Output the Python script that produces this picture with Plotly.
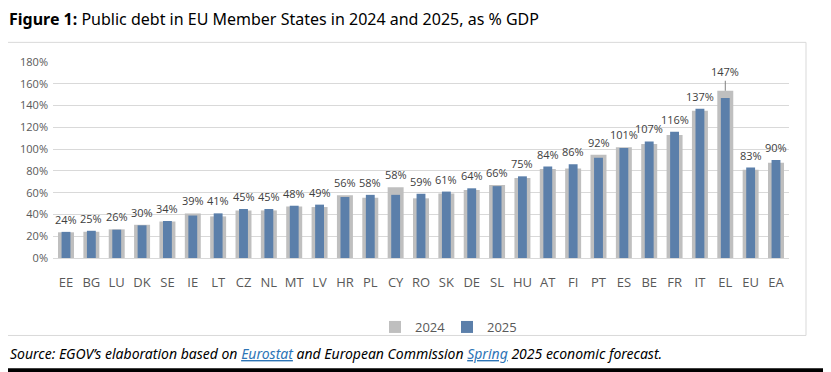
import plotly.graph_objects as go

countries = ["EE", "BG", "LU", "DK", "SE", "IE", "LT", "CZ", "NL", "MT", "LV", "HR", "PL", "CY", "RO",
             "SK", "DE", "SL", "HU", "AT", "FI", "PT", "ES", "BE", "FR", "IT", "EL", "EU", "EA"]
debt_2024 = [23.6, 24.1, 26.3, 30.5, 33.5, 40.9, 38.2, 43.6, 43.7, 47.4, 46.8, 57.6, 55.3, 65.0, 54.8,
             59.3, 62.5, 67.0, 73.5, 81.8, 82.1, 94.9, 101.8, 104.7, 113.0, 135.3, 153.6, 81.0, 87.4]
debt_2025 = [24, 25, 26, 30, 34, 39, 41, 45, 45, 48, 49, 56, 58, 58, 59,
             61, 64, 66, 75, 84, 86, 92, 101, 107, 116, 137, 147, 83, 90]
y_ticks = [0, 20, 40, 60, 80, 100, 120, 140, 160, 180]

# page has an 8px body margin; figure is sized to fill the rest of the window
OFF = 8
SW, SH = 831, 372
W, H = SW - OFF, SH - OFF
L, R, T, B = 53, 789, 61.7, 258.3   # plot area in screen pixels
PW, PH = R - L, B - T


def px(x):
    return (x - L) / PW


def py(y):
    return (B - y) / PH


def cx(x):
    return (x - OFF) / W


def cy(y):
    return 1 - (y - OFF) / H


GRAY = "#BFBFBF"
BLUE = "#5B7FAA"
TXT = "#595959"

fig = go.Figure()
fig.add_trace(go.Bar(x=countries, y=[v / 100 for v in debt_2024], name="2024",
                     marker=dict(color=GRAY, line=dict(width=0)), width=0.63))
fig.add_trace(go.Bar(x=countries, y=[v / 100 for v in debt_2025], name="2025",
                     marker=dict(color=BLUE, line=dict(width=0)), width=0.35))

annotations = []
for c, a, b in zip(countries, debt_2024, debt_2025):
    top = max(a, b) / 100
    if c == "EL":
        annotations.append(dict(x=c, y=top, xref="x", yref="y", text=f"{b}%",
                                showarrow=True, arrowhead=0, arrowwidth=1, arrowcolor="#808080",
                                ax=0, ay=-19, font=dict(size=11, color="#404040", family="Open Sans")))
    else:
        annotations.append(dict(x=c, y=top, xref="x", yref="y", text=f"{b}%", showarrow=False,
                                yanchor="bottom", yshift=3,
                                font=dict(size=11, color="#404040", family="Open Sans")))

annotations.append(dict(
    xref="paper", yref="paper", x=px(8), y=py(354), xanchor="left", yanchor="middle",
    showarrow=False, align="left",
    text=("<i>Source: EGOV’s elaboration based on "
          "<span style='color:#2E75B6;text-decoration:underline'>Eurostat</span>"
          " and European Commission "
          "<span style='color:#2E75B6;text-decoration:underline'>Spring</span>"
          " 2025 economic forecast.</i>"),
    font=dict(size=14, color="#000000", family="Noto Sans")))

shapes = [
    dict(type="rect", xref="paper", yref="paper", x0=px(7), x1=px(806), y0=py(42), y1=py(336),
         line=dict(color="#D9D9D9", width=1), fillcolor="rgba(0,0,0,0)", layer="below"),
    dict(type="rect", xref="paper", yref="paper", x0=px(827), x1=px(832), y0=py(-1), y1=py(373),
         line=dict(width=0), fillcolor="#000000"),
    dict(type="rect", xref="paper", yref="paper", x0=px(-1), x1=px(832), y0=py(369), y1=py(373),
         line=dict(width=0), fillcolor="#000000"),
]

fig.update_layout(
    width=W, height=H,
    margin=dict(l=L - OFF, r=SW - R, t=T - OFF, b=SH - B, pad=0, autoexpand=False),
    paper_bgcolor="white", plot_bgcolor="white",
    barmode="overlay",
    title=dict(text="<b>Figure 1:</b> Public debt in EU Member States in 2024 and 2025, as % GDP",
               xref="container", yref="container", x=cx(9), xanchor="left",
               y=cy(19.5), yanchor="middle",
               font=dict(size=16, color="#000000", family="Noto Sans")),
    xaxis=dict(tickfont=dict(size=13, color=TXT, family="Open Sans"), showline=True,
               linecolor="#D9D9D9", ticks="", ticklabelstandoff=12, automargin=False),
    yaxis=dict(range=[0, 1.8], tickvals=[v / 100 for v in y_ticks],
               ticktext=[f"{v}%" for v in y_ticks],
               tickfont=dict(size=11, color=TXT, family="Open Sans"),
               gridcolor="#D9D9D9", gridwidth=1, zeroline=False, ticks="", ticklabelstandoff=4,
               automargin=False),
    legend=dict(orientation="h", xref="container", yref="container",
                x=cx(375), y=cy(327), xanchor="left", yanchor="middle",
                font=dict(size=13, color=TXT, family="Open Sans"), itemwidth=30,
                entrywidth=27, entrywidthmode="pixels",
                traceorder="normal", bgcolor="rgba(0,0,0,0)"),
    annotations=annotations,
    shapes=shapes,
    showlegend=True,
)

fig.write_html("out.html")
